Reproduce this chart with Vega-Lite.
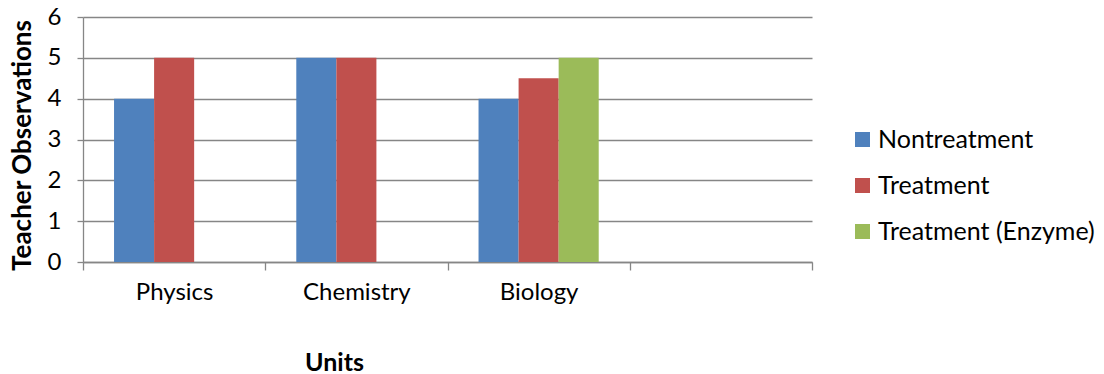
{
  "$schema": "https://vega.github.io/schema/vega-lite/v6.json",
  "width": 729,
  "height": 245,
  "autosize": {"type": "none"},
  "padding": {"left": 83, "top": 17, "right": 292, "bottom": 112},
  "background": "white",
  "data": {
    "values": [
      {"unit": "Physics", "group": "Nontreatment", "score": 4},
      {"unit": "Physics", "group": "Treatment", "score": 5},
      {"unit": "Chemistry", "group": "Nontreatment", "score": 5},
      {"unit": "Chemistry", "group": "Treatment", "score": 5},
      {"unit": "Biology", "group": "Nontreatment", "score": 4},
      {"unit": "Biology", "group": "Treatment", "score": 4.5},
      {"unit": "Biology", "group": "Treatment (Enzyme)", "score": 5}
    ]
  },
  "mark": {"type": "bar"},
  "encoding": {
    "x": {
      "field": "unit",
      "type": "nominal",
      "sort": null,
      "scale": {"domain": ["Physics", "Chemistry", "Biology", ""], "paddingInner": 0, "paddingOuter": 0},
      "axis": {
        "title": "Units",
        "labelAngle": 0,
        "tickBand": "extent",
        "tickSize": 8,
        "labelPadding": 10,
        "titleFontSize": 25,
        "titleX": 251,
        "titleY": 108,
        "titleAlign": "center",
        "titleAnchor": null,
        "titleBaseline": "alphabetic"
      }
    },
    "xOffset": {
      "field": "group",
      "type": "nominal",
      "scale": {"domain": ["Nontreatment", "Treatment", "Treatment (Enzyme)"], "paddingInner": 0, "paddingOuter": 0.775}
    },
    "y": {
      "field": "score",
      "type": "quantitative",
      "scale": {"domain": [0, 6], "nice": false},
      "axis": {
        "title": "Teacher Observations",
        "values": [0, 1, 2, 3, 4, 5, 6],
        "tickSize": 6,
        "labelPadding": 16,
        "grid": true,
        "titleFontSize": 26,
        "titleX": -61,
        "titleY": 128,
        "titleAlign": "center",
        "titleAnchor": null,
        "titleBaseline": "middle"
      }
    },
    "color": {
      "field": "group",
      "type": "nominal",
      "scale": {
        "domain": ["Nontreatment", "Treatment", "Treatment (Enzyme)"],
        "range": ["#4F81BD", "#C0504D", "#9BBB59"]
      },
      "legend": {
        "title": null,
        "orient": "none",
        "legendX": 767,
        "legendY": 110,
        "symbolType": "square",
        "symbolSize": 225,
        "symbolStrokeWidth": 0,
        "symbolOpacity": 1,
        "labelOffset": 3,
        "labelLimit": 300,
        "rowPadding": 20
      }
    }
  },
  "config": {
    "font": "Lato",
    "view": {"stroke": null},
    "axis": {
      "labelFont": "Lato",
      "labelFontSize": 24,
      "labelColor": "#000000",
      "titleFont": "Lato",
      "titleFontSize": 22,
      "titleFontWeight": "bold",
      "titleColor": "#000000",
      "domainColor": "#868686",
      "domainWidth": 1.3,
      "tickColor": "#868686",
      "tickWidth": 1.3,
      "gridColor": "#868686",
      "gridWidth": 1.3,
      "gridOpacity": 1
    },
    "legend": {
      "labelFont": "Lato",
      "labelFontSize": 25,
      "labelColor": "#000000",
      "padding": 0
    }
  }
}
